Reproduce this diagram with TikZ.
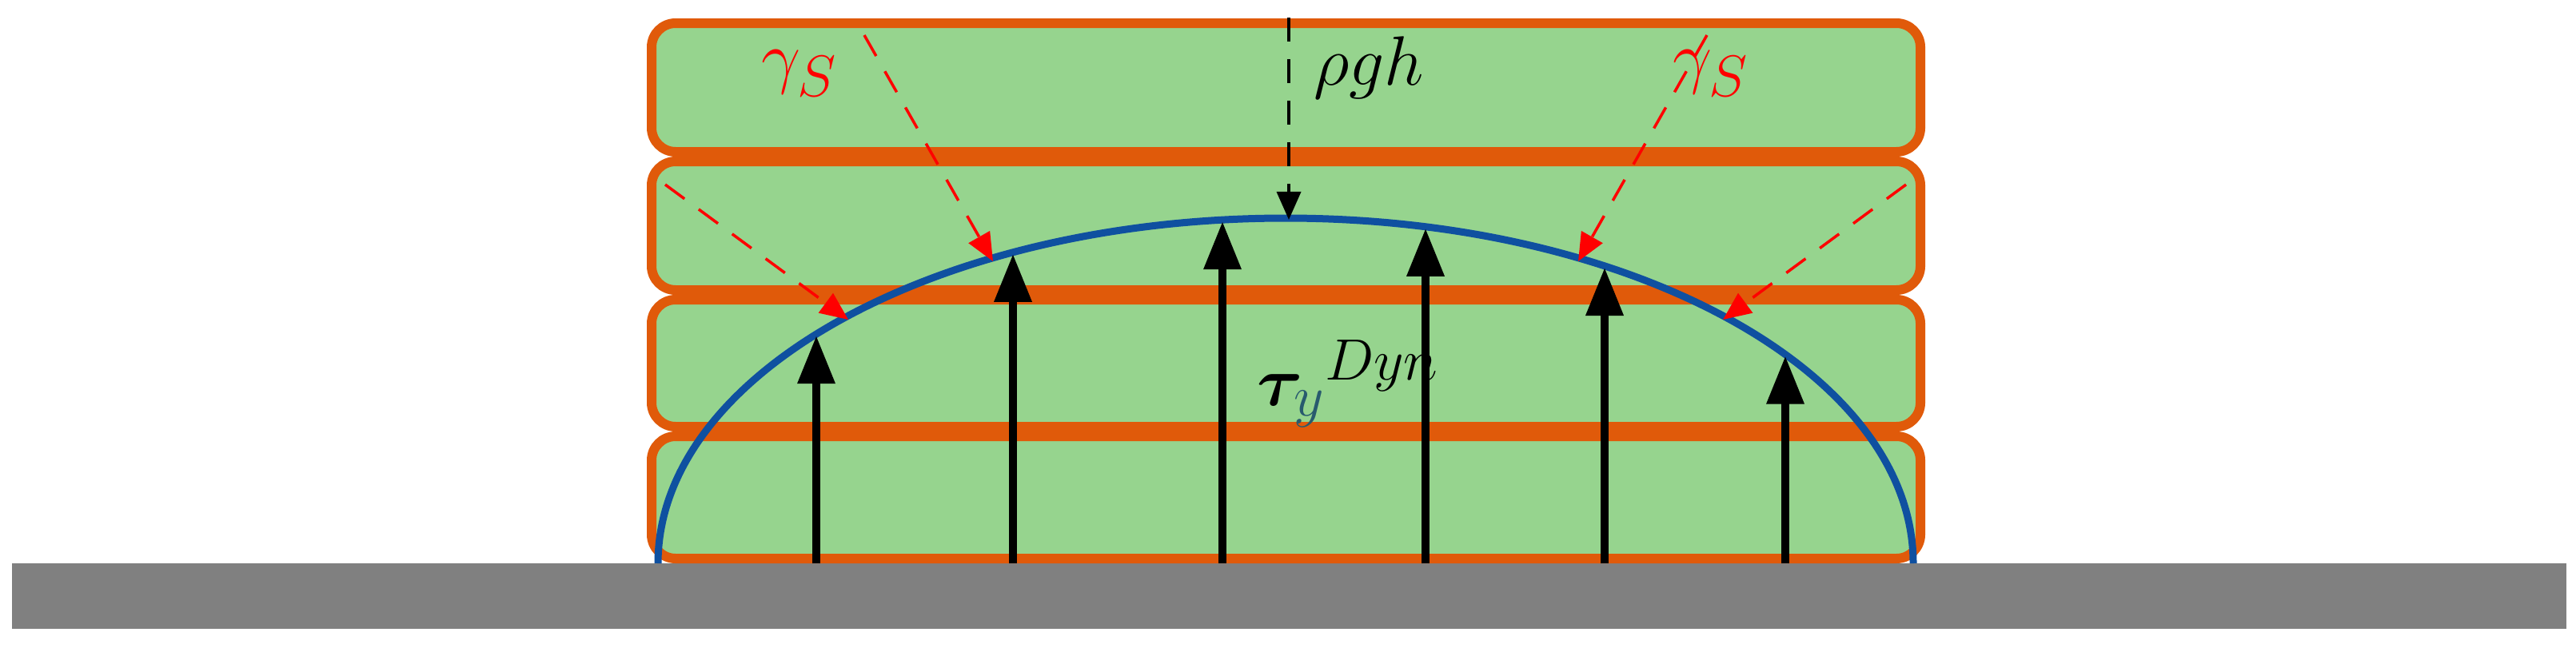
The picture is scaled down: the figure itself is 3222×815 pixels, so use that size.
\documentclass[tikz,border=0pt]{standalone}
\usepackage{bm}
\usetikzlibrary{arrows.meta}
\definecolor{lgreen}{RGB}{150,212,142}
\definecolor{orng}{RGB}{224,90,10}
\definecolor{eblue}{RGB}{15,80,160}
\definecolor{gnd}{RGB}{128,128,128}
\definecolor{tblue}{RGB}{40,90,110}
\begin{document}
\begin{tikzpicture}[x=0.01cm,y=-0.01cm,
  layer/.style={fill=lgreen,draw=orng,line width=12*0.01cm,rounded corners=0.3cm},
  force/.style={line width=10*0.01cm,-{Triangle[length=0.6cm,width=0.45cm]}},
  surf/.style={red,dashed,line width=3.5*0.01cm,dash pattern=on 0.3cm off 0.22cm,-{Triangle[length=0.35cm,width=0.3cm]}},
  lbl/.style={font=\fontsize{30}{34}\selectfont}]
\useasboundingbox (0,0) rectangle (3222,815);
\fill[gnd] (15,705) rectangle (3210,787);
\foreach \a/\b in {23/196,196/369,369/540,540/705}
  \draw[layer] (815,\a+6) rectangle (2402,\b-6);
\draw[eblue,line width=9*0.01cm] (823,705) arc[start angle=180,end angle=360,x radius=785,y radius=432];
\foreach \x in {1021,1267,1529,1783,2007,2233}{
  \pgfmathsetmacro\yy{705-432*sqrt(1-((\x-1608)/785)^2)}
  \draw[force] (\x,705) -- (\x,\yy+2);
}
\draw[surf] (832,231) -- (1061,400);
\draw[surf] (1081,44) -- (1242,327);
\draw[surf] (2384,231) -- (2155,400);
\draw[surf] (2135,44) -- (1974,327);
\draw[dashed,line width=3.5*0.01cm,dash pattern=on 0.3cm off 0.22cm,-{Triangle[length=0.35cm,width=0.3cm]}] (1612,22) -- (1612,275);
\node[lbl,red] (gl) at (1000,92) {$\gamma_S$};
\node[lbl,red] (gr) at (2140,92) {$\gamma_S$};
\node[lbl] (rho) at (1712,85) {$\rho g h$};
\node[lbl,anchor=west] (tau) at (1560,480) {$\bm{\tau}_{\color{tblue}y}^{Dyn}$};
\end{tikzpicture}
\end{document}
